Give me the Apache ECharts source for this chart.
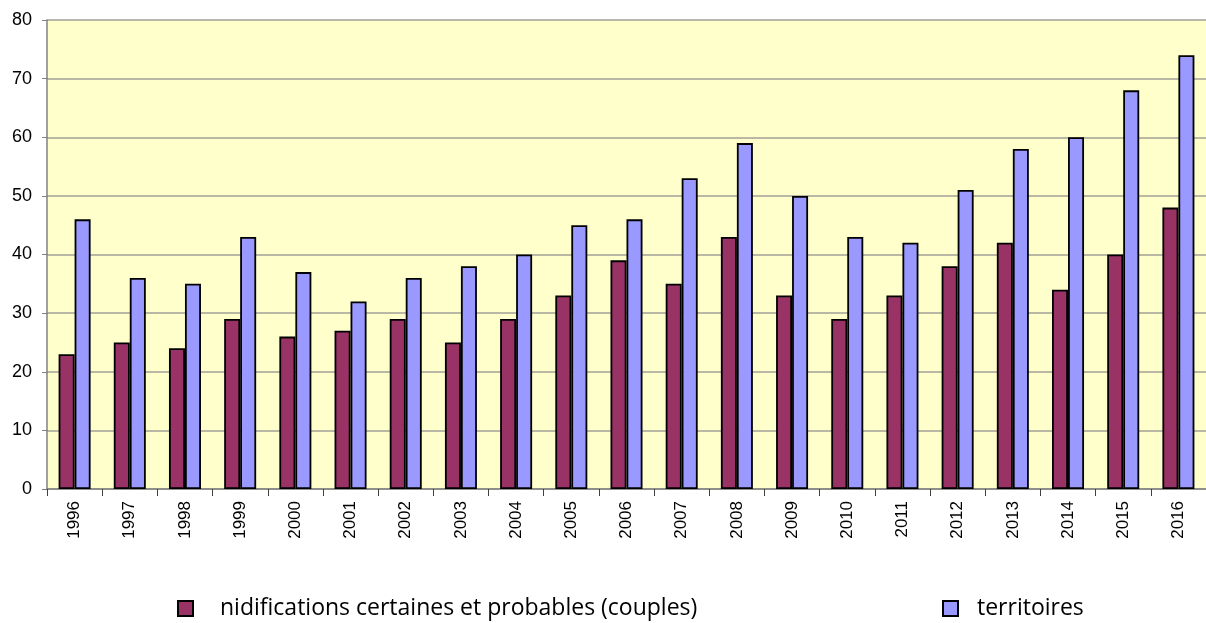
<!DOCTYPE html>
<html><head><meta charset="utf-8">
<script src="https://cdn.jsdelivr.net/npm/echarts@6/dist/echarts.min.js"></script>
<style>html,body{margin:0;padding:0;background:#fff}#c{width:1206px;height:623px}</style>
</head><body><div id="c"></div>
<script>
const years = ['1996','1997','1998','1999','2000','2001','2002','2003','2004','2005','2006','2007','2008','2009','2010','2011','2012','2013','2014','2015','2016'];
const nidifications = [23,25,24,29,26,27,29,25,29,33,39,35,43,33,29,33,38,42,34,40,48];
const territoires = [46,36,35,43,37,32,36,38,40,45,46,53,59,50,43,42,51,58,60,68,74];
const yTicks = [0,10,20,30,40,50,60,70,80];
const chart = echarts.init(document.getElementById('c'));
chart.setOption({
  animation:false,
  grid:{left:47,top:20,right:-12,bottom:134,show:true,backgroundColor:'#FFFFCC',borderWidth:0},
  legend:[
    {data:['nidifications certaines et probables (couples)'],left:177,top:597,padding:0,icon:'rect',itemWidth:15,itemHeight:15,
     itemStyle:{borderWidth:2,borderColor:'#000'},
     textStyle:{fontFamily:'Open Sans',fontSize:23,color:'#000',padding:[0,0,0,22]}},
    {data:['territoires'],left:942,top:597,padding:0,icon:'rect',itemWidth:15,itemHeight:15,
     itemStyle:{borderWidth:2,borderColor:'#000'},
     textStyle:{fontFamily:'Open Sans',fontSize:23,color:'#000',padding:[0,0,0,14]}}
  ],
  xAxis:{type:'category',data:years,
    axisLine:{show:true,lineStyle:{color:'#808080',width:1.5}},
    axisTick:{show:true,length:7,lineStyle:{color:'#404040'}},
    axisLabel:{rotate:90,fontFamily:'Liberation Sans',fontSize:17,color:'#000',margin:12}},
  yAxis:{type:'value',min:0,max:80,interval:10,
    axisLine:{show:true,lineStyle:{color:'#808080',width:1.5}},
    axisTick:{show:true,length:5,lineStyle:{color:'#808080'}},
    splitLine:{lineStyle:{color:'#a0a098',width:1.5}},
    axisLabel:{fontFamily:'Liberation Sans',fontSize:18,color:'#000',margin:15,
      formatter:v=>yTicks.includes(v)?String(v):''}},
  series:[
    {name:'nidifications certaines et probables (couples)',type:'bar',data:nidifications,barWidth:16,barGap:'0%',
     itemStyle:{color:'#993366',borderColor:'#000',borderWidth:1.8}},
    {name:'territoires',type:'bar',data:territoires,barWidth:16,barGap:'0%',
     itemStyle:{color:'#9999FF',borderColor:'#000',borderWidth:1.8}}
  ]
});
</script></body></html>
